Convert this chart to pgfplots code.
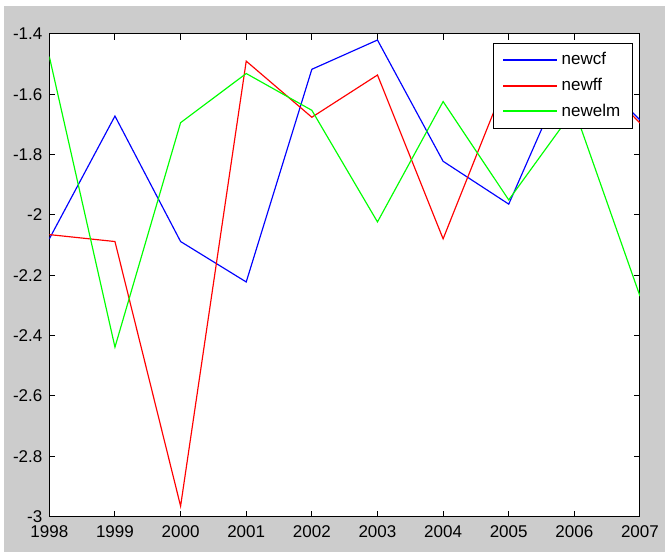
\documentclass[border=0pt]{standalone}
\usepackage{fontspec}
\setmainfont{Liberation Sans}
\usepackage{pgfplots}
\pgfplotsset{compat=1.18}
\definecolor{figgray}{RGB}{204,204,204}
\definecolor{mblue}{RGB}{0,0,255}
\definecolor{mred}{RGB}{255,0,0}
\definecolor{mgreen}{RGB}{0,255,0}
\begin{document}
\begin{tikzpicture}
\fontsize{10.2}{12}\selectfont
\fill[white] (0,0) rectangle (399pt,331.2pt);
\fill[figgray] (2.1pt,0) rectangle (399pt,327.6pt);
\begin{axis}[
  scale only axis,
  width=354.4pt, height=289.6pt,
  at={(29.6pt,21.2pt)}, anchor=south west,
  xmin=1998, xmax=2007, ymin=-3, ymax=-1.4,
  axis background/.style={fill=white},
  axis line style={black, line width=0.6pt},
  xtick={1998,1999,...,2007},
  xticklabels={1998,1999,2000,2001,2002,2003,2004,2005,2006,2007},
  ytick={-3,-2.8,-2.6,-2.4,-2.2,-2,-1.8,-1.6,-1.4},
  yticklabels={-3,-2.8,-2.6,-2.4,-2.2,-2,-1.8,-1.6,-1.4},
  tick align=inside,
  major tick length=3.6pt,
  tick style={black, line width=0.6pt},
  xticklabel style={anchor=north, inner sep=0pt, yshift=-5.4pt},
  yticklabel style={anchor=east, inner sep=0pt, xshift=-4pt},
  every tick label/.append style={font=\fontsize{10.2}{12}\selectfont},
  legend cell align=left,
  legend style={at={(0.9887,0.982)}, anchor=north east,
    fill=white, draw=black, line width=0.6pt, inner xsep=5.5pt, inner ysep=3.5pt, row sep=2.6pt,
    font=\fontsize{10.2}{12}\selectfont},
]
\addplot[mblue, line width=0.7pt, forget plot] coordinates {
 (1998,-2.079) (1999,-1.672) (2000,-2.088) (2001,-2.222) (2002,-1.517)
 (2003,-1.420) (2004,-1.822) (2005,-1.964) (2006,-1.468) (2007,-1.685)};
\addplot[mred, line width=0.7pt, forget plot] coordinates {
 (1998,-2.065) (1999,-2.088) (2000,-2.965) (2001,-1.490) (2002,-1.676)
 (2003,-1.536) (2004,-2.079) (2005,-1.534) (2006,-1.475) (2007,-1.695)};
\addplot[mgreen, line width=0.7pt, forget plot] coordinates {
 (1998,-1.475) (1999,-2.438) (2000,-1.694) (2001,-1.531) (2002,-1.653)
 (2003,-2.023) (2004,-1.624) (2005,-1.950) (2006,-1.650) (2007,-2.269)};
\addlegendimage{legend image code/.code={\draw[draw=mblue, line width=1.1pt] (0pt,0pt) -- (32.4pt,0pt);}}
\addlegendentry{newcf}
\addlegendimage{legend image code/.code={\draw[draw=mred, line width=1.1pt] (0pt,0pt) -- (32.4pt,0pt);}}
\addlegendentry{newff}
\addlegendimage{legend image code/.code={\draw[draw=mgreen, line width=1.2pt] (0pt,0.45pt) -- (32.4pt,0.45pt);}}
\addlegendentry{newelm}
\end{axis}
\end{tikzpicture}
\end{document}
